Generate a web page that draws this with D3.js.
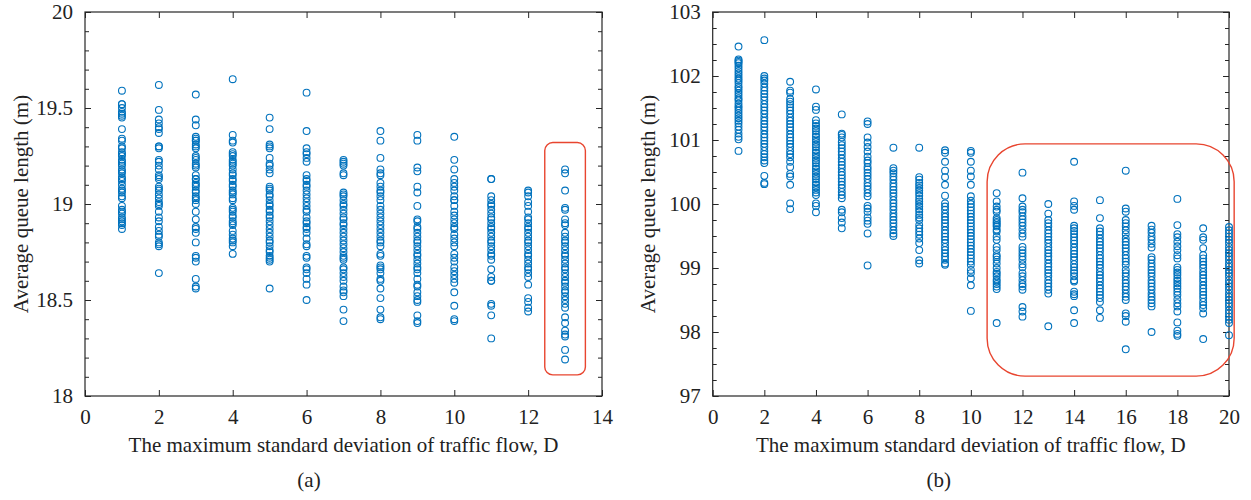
<!DOCTYPE html>
<html>
<head>
<meta charset="utf-8">
<script src="https://cdn.jsdelivr.net/npm/d3@7"></script>
<style>
  body { margin: 0; background: #fff; }
  svg text { font-family: "Liberation Serif", "DejaVu Serif", serif; }
</style>
</head>
<body>
<svg width="1251" height="500"></svg>
<script>
// panel (a): D = 1..13, average queue length per run
const dA = [1, 2, 3, 4, 5, 6, 7, 8, 9, 10, 11, 12, 13];
const queueA = [
  [19.59,19.52,19.52,19.5,19.48,19.47,19.46,19.45,19.39,19.34,19.33,19.3,19.29,19.27,19.26,19.25,19.23,19.22,19.21,19.2,19.18,19.17,19.16,19.14,19.13,19.12,19.1,19.08,19.07,19.06,19.04,19.03,18.99,18.97,18.96,18.95,18.93,18.92,18.91,18.9,18.89,18.87],
  [19.62,19.49,19.44,19.42,19.4,19.39,19.37,19.3,19.3,19.29,19.23,19.22,19.2,19.18,19.15,19.14,19.13,19.09,19.08,19.07,19.05,19.03,19.01,19.0,18.99,18.96,18.93,18.91,18.88,18.86,18.84,18.83,18.8,18.79,18.78,18.64],
  [19.57,19.44,19.41,19.35,19.34,19.33,19.33,19.31,19.3,19.29,19.25,19.24,19.23,19.21,19.2,19.19,19.15,19.13,19.13,19.11,19.1,19.09,19.07,19.06,19.04,19.03,19.02,19.0,18.96,18.92,18.88,18.87,18.85,18.8,18.73,18.72,18.7,18.61,18.57,18.56],
  [19.65,19.36,19.33,19.32,19.27,19.26,19.25,19.23,19.22,19.21,19.2,19.18,19.16,19.15,19.13,19.12,19.1,19.09,19.07,19.06,19.05,19.03,19.02,18.98,18.97,18.96,18.94,18.93,18.91,18.9,18.89,18.86,18.84,18.82,18.81,18.8,18.78,18.74],
  [19.45,19.39,19.31,19.3,19.29,19.24,19.21,19.2,19.18,19.16,19.09,19.08,19.07,19.05,19.04,19.02,19.0,18.99,18.97,18.96,18.94,18.93,18.91,18.89,18.87,18.85,18.83,18.81,18.8,18.78,18.76,18.75,18.73,18.72,18.71,18.7,18.56],
  [19.58,19.38,19.29,19.27,19.26,19.24,19.22,19.15,19.13,19.12,19.1,19.09,19.07,19.05,19.03,19.01,18.99,18.97,18.96,18.93,18.91,18.9,18.88,18.87,18.85,18.82,18.79,18.78,18.73,18.72,18.67,18.66,18.64,18.61,18.58,18.5],
  [19.23,19.22,19.21,19.2,19.16,19.15,19.06,19.05,19.04,19.02,19.0,18.99,18.97,18.95,18.93,18.92,18.9,18.89,18.87,18.85,18.83,18.81,18.79,18.77,18.75,18.73,18.72,18.71,18.67,18.66,18.64,18.62,18.6,18.57,18.55,18.54,18.52,18.45,18.39],
  [19.38,19.33,19.24,19.18,19.16,19.15,19.11,19.09,19.07,19.06,19.04,19.02,18.99,18.97,18.95,18.93,18.91,18.89,18.87,18.85,18.83,18.81,18.8,18.78,18.74,18.73,18.68,18.67,18.66,18.64,18.61,18.6,18.56,18.51,18.45,18.41,18.4],
  [19.36,19.33,19.19,19.17,19.09,19.06,18.99,18.92,18.91,18.88,18.87,18.85,18.83,18.81,18.8,18.78,18.76,18.74,18.73,18.71,18.69,18.67,18.66,18.64,18.61,18.58,18.57,18.54,18.52,18.5,18.49,18.42,18.39,18.38],
  [19.35,19.23,19.18,19.13,19.11,19.09,19.07,19.04,19.02,19.02,18.99,18.96,18.94,18.92,18.9,18.88,18.87,18.84,18.82,18.8,18.78,18.74,18.72,18.7,18.67,18.65,18.63,18.61,18.59,18.54,18.47,18.4,18.39],
  [19.13,19.13,19.04,19.02,19.0,18.99,18.97,18.95,18.93,18.92,18.9,18.88,18.87,18.85,18.83,18.81,18.8,18.78,18.76,18.74,18.73,18.71,18.66,18.62,18.6,18.6,18.48,18.47,18.42,18.3],
  [19.07,19.06,19.04,19.01,18.99,18.96,18.93,18.92,18.9,18.88,18.87,18.85,18.83,18.81,18.8,18.78,18.76,18.74,18.73,18.71,18.69,18.67,18.66,18.64,18.62,18.58,18.51,18.49,18.46,18.44],
  [19.18,19.16,19.07,18.98,18.97,18.92,18.9,18.89,18.85,18.83,18.81,18.8,18.78,18.76,18.74,18.73,18.71,18.69,18.67,18.66,18.64,18.62,18.6,18.59,18.57,18.55,18.54,18.52,18.5,18.48,18.46,18.41,18.38,18.34,18.32,18.31,18.24,18.19]
];

// panel (b): D = 1..20
const dB = [1, 2, 3, 4, 5, 6, 7, 8, 9, 10, 11, 12, 13, 14, 15, 16, 17, 18, 19, 20];
const queueB = [
  [102.46,102.26,102.24,102.22,102.2,102.16,102.12,102.08,102.04,102.0,101.96,101.93,101.89,101.84,101.81,101.77,101.73,101.69,101.65,101.62,101.57,101.53,101.5,101.46,101.42,101.38,101.34,101.3,101.26,101.21,101.16,101.1,101.05,101.01,100.83],
  [102.56,102.0,101.96,101.93,101.88,101.82,101.77,101.72,101.67,101.62,101.56,101.51,101.46,101.41,101.35,101.3,101.25,101.2,101.15,101.09,101.04,100.99,100.94,100.89,100.83,100.78,100.73,100.68,100.64,100.44,100.33,100.31],
  [101.91,101.77,101.74,101.64,101.6,101.56,101.51,101.46,101.41,101.35,101.3,101.25,101.2,101.15,101.09,101.04,100.99,100.94,100.89,100.83,100.78,100.73,100.66,100.58,100.47,100.43,100.3,100.01,99.92],
  [101.79,101.52,101.47,101.31,101.26,101.22,101.18,101.14,101.09,101.05,101.01,100.97,100.93,100.89,100.84,100.8,100.76,100.72,100.68,100.64,100.59,100.55,100.51,100.47,100.43,100.39,100.34,100.3,100.26,100.22,100.18,100.14,100.01,99.97,99.87],
  [101.4,101.1,101.08,101.04,100.97,100.92,100.87,100.82,100.77,100.71,100.66,100.61,100.56,100.5,100.45,100.4,100.35,100.3,100.25,100.19,100.14,100.09,99.91,99.87,99.78,99.71,99.62],
  [101.29,101.25,101.04,100.96,100.89,100.82,100.74,100.68,100.64,100.58,100.54,100.49,100.44,100.39,100.33,100.28,100.23,100.17,100.12,99.97,99.93,99.88,99.79,99.74,99.69,99.54,99.04],
  [100.88,100.56,100.52,100.48,100.43,100.38,100.32,100.27,100.22,100.17,100.12,100.06,100.01,99.96,99.91,99.85,99.8,99.75,99.7,99.65,99.59,99.54,99.5],
  [100.88,100.42,100.38,100.33,100.29,100.25,100.21,100.17,100.13,100.08,100.04,100.0,99.96,99.92,99.88,99.83,99.79,99.75,99.67,99.62,99.57,99.52,99.46,99.39,99.28,99.12,99.07],
  [100.84,100.8,100.66,100.52,100.42,100.3,100.13,100.01,99.96,99.91,99.85,99.8,99.75,99.7,99.65,99.59,99.54,99.49,99.44,99.39,99.33,99.28,99.23,99.18,99.13,99.07,99.05],
  [100.83,100.8,100.66,100.52,100.43,100.3,100.12,100.05,100.0,99.95,99.9,99.85,99.8,99.75,99.7,99.65,99.6,99.55,99.5,99.45,99.4,99.35,99.3,99.25,99.2,99.15,99.1,99.05,98.97,98.92,98.84,98.73,98.33],
  [100.17,100.04,99.96,99.91,99.88,99.78,99.75,99.72,99.7,99.67,99.65,99.6,99.57,99.49,99.44,99.33,99.28,99.2,99.17,99.13,99.07,99.0,98.94,98.91,98.87,98.82,98.79,98.75,98.71,98.67,98.14],
  [100.49,100.09,99.96,99.91,99.87,99.81,99.76,99.71,99.66,99.6,99.54,99.49,99.33,99.28,99.23,99.18,99.13,99.06,99.01,98.92,98.87,98.81,98.75,98.71,98.66,98.39,98.32,98.24],
  [100.0,99.85,99.75,99.7,99.65,99.59,99.54,99.49,99.44,99.39,99.33,99.28,99.23,99.18,99.13,99.07,99.02,98.97,98.92,98.87,98.81,98.76,98.71,98.66,98.6,98.09],
  [100.66,100.04,99.97,99.91,99.66,99.62,99.58,99.53,99.48,99.43,99.38,99.32,99.27,99.22,99.17,99.12,99.06,99.01,98.96,98.92,98.87,98.81,98.79,98.63,98.59,98.56,98.34,98.14],
  [100.06,99.78,99.62,99.57,99.52,99.46,99.41,99.36,99.31,99.26,99.2,99.15,99.1,99.05,99.0,98.94,98.89,98.84,98.79,98.73,98.68,98.63,98.58,98.53,98.47,98.34,98.22],
  [100.52,99.93,99.88,99.75,99.7,99.65,99.59,99.53,99.46,99.41,99.36,99.31,99.26,99.2,99.15,99.1,99.05,98.97,98.92,98.87,98.81,98.76,98.71,98.66,98.6,98.55,98.5,98.29,98.25,98.16,97.73],
  [99.66,99.6,99.55,99.49,99.44,99.38,99.32,99.17,99.13,99.07,99.02,98.97,98.92,98.87,98.81,98.76,98.71,98.66,98.6,98.55,98.5,98.45,98.4,98.0],
  [100.08,99.67,99.53,99.48,99.41,99.34,99.28,99.2,99.15,99.01,98.97,98.93,98.89,98.84,98.8,98.76,98.72,98.68,98.63,98.58,98.51,98.45,98.4,98.32,98.15,98.02,97.97,97.94],
  [99.62,99.48,99.44,99.31,99.2,99.15,99.1,99.05,99.0,98.94,98.89,98.84,98.79,98.73,98.68,98.63,98.58,98.53,98.47,98.42,98.37,98.29,97.89],
  [99.64,99.59,99.54,99.49,99.44,99.39,99.33,99.28,99.23,99.18,99.13,99.07,99.02,98.97,98.92,98.87,98.81,98.76,98.71,98.66,98.6,98.55,98.5,98.45,98.4,98.34,98.29,98.24,98.19,98.14,97.95]
];

const xLabel = "The maximum standard deviation of traffic flow, D";
const yLabel = "Average queue length (m)";

const svg = d3.select("svg");
const blue = "#0072BD";
const red = "#e8452f";
const axisColor = "#262626";
const serif = "'Liberation Serif', 'DejaVu Serif', serif";

const drawPanel = (p) => {
  const g = svg.append("g").attr("transform", `translate(${p.left},${p.top})`);
  const w = p.width, h = p.height;

  const xScale = d3.scaleLinear().domain(p.xDomain).range([0, w]);
  const yScale = d3.scaleLinear().domain(p.yDomain).range([h, 0]);

  const xTicks = d3.range(p.xDomain[0], p.xDomain[1] + 0.001, 2);

  // bottom axis with labels, top axis ticks only
  g.append("g").attr("transform", `translate(0,${h})`)
    .call(d3.axisBottom(xScale).tickValues(xTicks).tickSizeInner(-6).tickSizeOuter(0).tickPadding(13));
  g.append("g")
    .call(d3.axisTop(xScale).tickValues(xTicks).tickSizeInner(-6).tickSizeOuter(0).tickFormat(""));

  g.append("g")
    .call(d3.axisLeft(yScale).tickValues(p.yTicks).tickSizeInner(-6).tickSizeOuter(0).tickPadding(12).tickFormat(d3.format("")));
  g.append("g").attr("transform", `translate(${w},0)`)
    .call(d3.axisRight(yScale).tickValues(p.yTicks).tickSizeInner(-6).tickSizeOuter(0).tickFormat(""));

  // minor y ticks on both sides
  g.append("g")
    .call(d3.axisLeft(yScale).tickValues(p.yMinor).tickSizeInner(-4).tickSizeOuter(0).tickFormat(""));
  g.append("g").attr("transform", `translate(${w},0)`)
    .call(d3.axisRight(yScale).tickValues(p.yMinor).tickSizeInner(-4).tickSizeOuter(0).tickFormat(""));

  g.selectAll("g").attr("font-family", null).attr("font-size", null);
  g.selectAll(".domain").remove();
  g.selectAll(".tick line").attr("stroke", axisColor);
  g.selectAll(".tick text").attr("fill", "#222")
    .attr("font-family", serif).attr("font-size", 21);

  g.append("rect").attr("width", w).attr("height", h)
    .attr("fill", "none").attr("stroke", axisColor).attr("stroke-width", 1.2);

  // scatter
  const pts = [];
  p.cats.forEach((c, i) => p.values[i].forEach((v) => pts.push({ x: c, y: v })));
  g.selectAll("circle.pt")
    .data(pts)
    .join("circle")
    .attr("class", "pt")
    .attr("cx", (d) => xScale(d.x))
    .attr("cy", (d) => yScale(d.y))
    .attr("r", 3.4)
    .attr("fill", "none")
    .attr("stroke", blue)
    .attr("stroke-width", 1.1);

  // highlight box
  const b = p.box;
  g.append("rect")
    .attr("x", xScale(b.x0)).attr("y", yScale(b.y1))
    .attr("width", xScale(b.x1) - xScale(b.x0))
    .attr("height", yScale(b.y0) - yScale(b.y1))
    .attr("rx", b.r).attr("ry", b.r)
    .attr("fill", "none").attr("stroke", red).attr("stroke-width", 1.4);

  g.append("text")
    .attr("x", w / 2).attr("y", h + 56)
    .attr("text-anchor", "middle")
    .attr("font-family", serif).attr("font-size", 21).attr("fill", "#222")
    .text(xLabel);

  g.append("text")
    .attr("transform", `translate(${-p.left + p.yLabelX},${h / 2}) rotate(-90)`)
    .attr("text-anchor", "middle")
    .attr("font-family", serif).attr("font-size", 21).attr("fill", "#222")
    .text(yLabel);

  g.append("text")
    .attr("x", p.tagX).attr("y", h + 91)
    .attr("text-anchor", "middle")
    .attr("font-family", serif).attr("font-size", 21).attr("fill", "#222")
    .text(p.tag);
};

drawPanel({
  left: 85, top: 12, width: 517, height: 384,
  xDomain: [0, 14], yDomain: [18, 20],
  yTicks: [18, 18.5, 19, 19.5, 20],
  yMinor: d3.range(18.1, 20, 0.1).map((v) => +v.toFixed(1)),
  cats: dA, values: queueA,
  box: { x0: 12.45, x1: 13.55, y0: 18.11, y1: 19.32, r: 8 },
  yLabelX: 28, tag: "(a)", tagX: 224
});

drawPanel({
  left: 712.7, top: 12, width: 516.3, height: 384,
  xDomain: [0, 20], yDomain: [97, 103],
  yTicks: [97, 98, 99, 100, 101, 102, 103],
  yMinor: d3.range(97.25, 103, 0.25),
  cats: dB, values: queueB,
  box: { x0: 10.63, x1: 20.2, y0: 97.31, y1: 100.94, r: 38 },
  yLabelX: 655, tag: "(b)", tagX: 226
});
</script>
</body>
</html>
